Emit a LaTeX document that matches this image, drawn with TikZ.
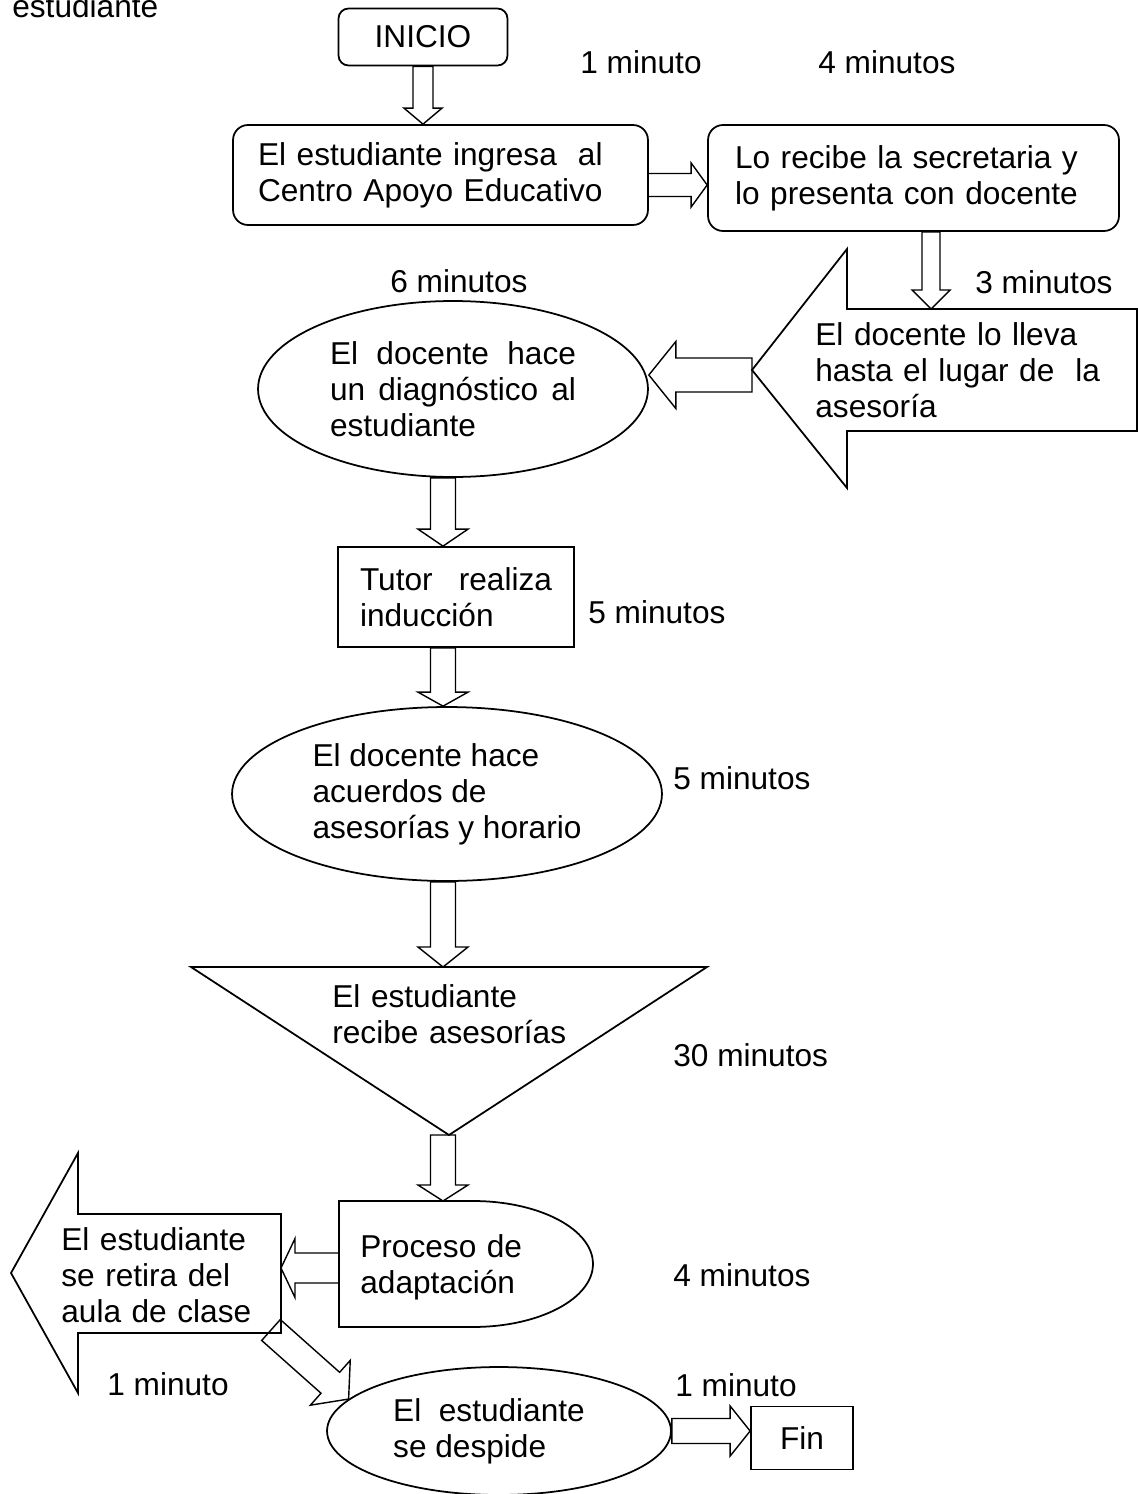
\documentclass[tikz,border=0pt]{standalone}
\usepackage{fontspec}
\setmainfont{Liberation Sans}
\usetikzlibrary{calc,shapes.geometric}

% hollow block arrow: shaft half width, head half width, head length, tail, tip
\newcommand{\fatarrow}[5]{%
  \coordinate (fa-t) at (#4);
  \coordinate (fa-p) at (#5);
  \coordinate (fa-h) at ($(fa-p)!#3!(fa-t)$);
  \draw[fat] ($(fa-t)!#1!90:(fa-p)$) -- ($(fa-h)!#1!90:(fa-p)$)
    -- ($(fa-h)!#2!90:(fa-p)$) -- (fa-p)
    -- ($(fa-h)!#2!-90:(fa-p)$) -- ($(fa-h)!#1!-90:(fa-p)$)
    -- ($(fa-t)!#1!-90:(fa-p)$) -- cycle;
}

\begin{document}
\begin{tikzpicture}[
    x=0.02cm, y=-0.02cm,
    every node/.style={font=\fontsize{18}{20.5}\selectfont, inner sep=0pt},
    shapeline/.style={line width=1pt},
    roundbox/.style={draw, line width=1pt, rounded corners=0.3cm, align=left},
    plainbox/.style={draw, line width=1pt, align=left},
    oval/.style={draw, ellipse, line width=1pt, align=left},
    txt/.style={anchor=base west, text width=#1, align=left},
    time/.style={anchor=base west},
    fat/.style={line width=0.8pt}
]
\useasboundingbox (0,0) rectangle (1138,1494);

% Top row
\node[time] (caption) at (12,17) {estudiante};
\node[roundbox, rounded corners=0.2cm, minimum width=3.38cm, minimum height=1.14cm] (inicio) at (423,37) {INICIO};
\node[time] (t1) at (580,73) {1 minuto};
\node[time] (t2) at (818,73) {4 minutos};

\node[roundbox, text width=7.3cm, inner xsep=0.5cm, minimum height=2cm] (ingresa) at (440.5,175)
{El estudiante ingresa\ \ al\\Centro Apoyo Educativo};
\node[roundbox, text width=7.14cm, inner xsep=0.54cm, minimum height=2.12cm] (recibe) at (913.5,178)
{Lo recibe la secretaria y\\lo presenta con docente};

% Docente lo lleva
\draw[shapeline] (752,370) -- (847,249) -- (847,309) coordinate (lleva-top) -- (1137,309)
  -- (1137,431) -- (847,431) -- (847,488) -- cycle;
\node[txt=6cm] (lleva) at (815,345) {El docente lo lleva\\hasta el lugar de\ \ la\\asesoría};
\coordinate (drop) at (931,309);
\coordinate (lleva-out) at (752,375);
\node[time] (t3) at (975,293) {3 minutos};
\node[time] (t4) at (390,292) {6 minutos};

% Diagnostico
\node[oval, text width=4.92cm, minimum width=7.8cm, minimum height=3.52cm] (diag) at (453,389)
{\makebox[4.92cm]{El\hfill docente\hfill hace}\\\makebox[4.92cm]{un\hfill diagnóstico\hfill al}\\estudiante};

% Tutor
\node[plainbox, text width=3.84cm, inner xsep=0.44cm, minimum height=2cm] (tutor) at (456,597)
{\makebox[3.84cm]{Tutor\hfill realiza}\\inducción};
\node[time] (t5) at (588,623) {5 minutos};

% Acuerdos
\node[oval, minimum width=8.6cm, minimum height=3.48cm] (acuerdos) at (447,794)
{El docente hace\\acuerdos de\\asesorías y horario};
\node[time] (t6) at (673,789) {5 minutos};

% Asesorias
\draw[shapeline] (191,967) coordinate (tri-nw) -- (707,967) coordinate (tri-ne)
  -- (449,1135) coordinate (tri-s) -- cycle;
\node[txt=6cm] (asesorias) at (332,1007) {El estudiante\\recibe asesorías};
\node[time] (t7) at (673,1066) {30 minutos};

% Adaptacion
\draw[shapeline] (339,1201) coordinate (proc-nw) -- (473,1201)
  arc[start angle=90, end angle=-90, x radius=2.4cm, y radius=1.26cm]
  -- (339,1327) -- cycle;
\node[txt=5cm] (proceso) at (360,1257) {Proceso de\\adaptación};
\coordinate (proc-w) at (339,1268);
\node[time] (t8) at (673,1286) {4 minutos};

% Se retira
\draw[shapeline] (11,1273) -- (78,1153) -- (78,1214) -- (281,1214) coordinate (retira-ne)
  -- (281,1333) -- (78,1333) -- (78,1393) -- cycle;
\node[txt=5cm] (retira) at (61,1250) {El estudiante\\se retira del\\aula de clase};
\coordinate (retira-out) at (271,1330);
\node[time] (t9) at (107,1395) {1 minuto};

% Despedida y fin
\node[oval, minimum width=6.88cm, minimum height=2.56cm] (despide) at (499,1431)
{El\ \ estudiante\hspace*{0.4cm}\\se despide};
\node[plainbox, minimum width=2.04cm, minimum height=1.26cm] (fin) at (802,1438) {Fin};
\node[time] (t10) at (675,1396) {1 minuto};

% Arrows
\coordinate (spine) at (443,0);
\coordinate (ingresa-out) at (648,185);
\fatarrow{0.2cm}{0.38cm}{0.32cm}{inicio.south}{inicio.south |- ingresa.north}
\fatarrow{0.23cm}{0.44cm}{0.32cm}{ingresa-out}{recibe.west |- ingresa-out}
\fatarrow{0.18cm}{0.38cm}{0.38cm}{drop |- recibe.south}{drop}
\fatarrow{0.34cm}{0.67cm}{0.54cm}{lleva-out}{diag.east |- lleva-out}
\fatarrow{0.25cm}{0.5cm}{0.34cm}{spine |- diag.south}{spine |- tutor.north}
\fatarrow{0.25cm}{0.5cm}{0.28cm}{spine |- tutor.south}{spine |- acuerdos.north}
\fatarrow{0.25cm}{0.5cm}{0.4cm}{spine |- acuerdos.south}{spine |- tri-nw}
\fatarrow{0.25cm}{0.5cm}{0.32cm}{spine |- tri-s}{spine |- proc-nw}
\fatarrow{0.3cm}{0.59cm}{0.28cm}{proc-w}{retira-ne |- proc-w}
\fatarrow{0.28cm}{0.6cm}{0.49cm}{retira-out}{despide.168}
\fatarrow{0.25cm}{0.5cm}{0.4cm}{despide.east}{despide.east -| fin.west}

\end{tikzpicture}
\end{document}
